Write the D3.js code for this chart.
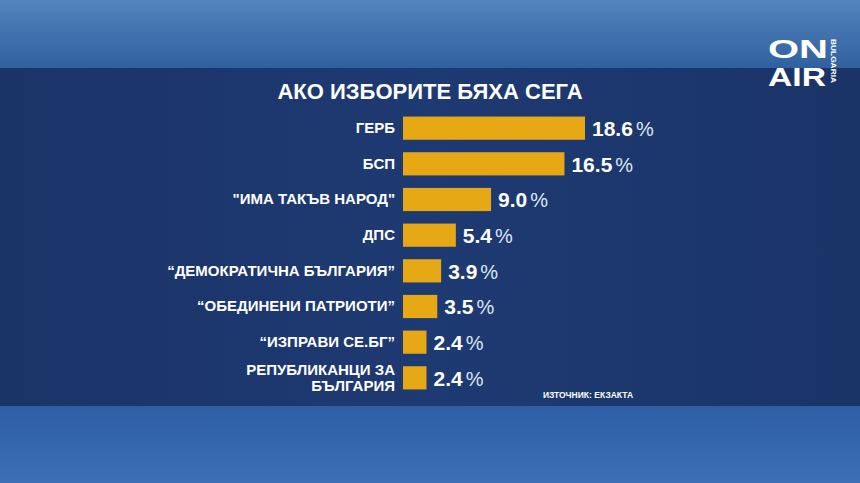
<!DOCTYPE html>
<html><head><meta charset="utf-8">
<script src="https://cdn.jsdelivr.net/npm/d3@7"></script>
<style>body{margin:0;background:#2a5590}text{font-family:"Liberation Sans",Arial,sans-serif}</style>
</head><body>
<svg width="860" height="483"></svg>
<script>
var parties = ["ГЕРБ", "БСП", "\"ИМА ТАКЪВ НАРОД\"", "ДПС", "“ДЕМОКРАТИЧНА БЪЛГАРИЯ”", "“ОБЕДИНЕНИ ПАТРИОТИ”", "“ИЗПРАВИ СЕ.БГ”", "РЕПУБЛИКАНЦИ ЗА|БЪЛГАРИЯ"];
var values = [18.6, 16.5, 9.0, 5.4, 3.9, 3.5, 2.4, 2.4];
var title = "АКО ИЗБОРИТЕ БЯХА СЕГА";
var source = "ИЗТОЧНИК: ЕКЗАКТА";

var svg = d3.select("svg");
var defs = svg.append("defs");
var gt = defs.append("linearGradient").attr("id", "top").attr("x1", 0).attr("x2", 0).attr("y1", 0).attr("y2", 1);
gt.append("stop").attr("offset", 0).attr("stop-color", "#5384bd");
gt.append("stop").attr("offset", 1).attr("stop-color", "#2f5f9e");
var gb = defs.append("linearGradient").attr("id", "bot").attr("x1", 0).attr("x2", 0).attr("y1", 0).attr("y2", 1);
gb.append("stop").attr("offset", 0).attr("stop-color", "#2d5ea6");
gb.append("stop").attr("offset", 1).attr("stop-color", "#3c70b6");
var gm = defs.append("linearGradient").attr("id", "mid").attr("x1", 0).attr("x2", 1).attr("y1", 0).attr("y2", 0);
gm.append("stop").attr("offset", 0).attr("stop-color", "#1b3468");
gm.append("stop").attr("offset", 0.5).attr("stop-color", "#1e3a72");
gm.append("stop").attr("offset", 1).attr("stop-color", "#1a3468");

svg.append("rect").attr("width", 860).attr("height", 70).attr("fill", "url(#top)");
svg.append("rect").attr("y", 68).attr("width", 860).attr("height", 338).attr("fill", "url(#mid)");
svg.append("rect").attr("y", 406).attr("width", 860).attr("height", 77).attr("fill", "url(#bot)");

var x = d3.scaleLinear().domain([0, 18.6]).range([403, 585]);
var y = d3.scaleBand().domain(parties).range([113, 393]).paddingInner(0.35).paddingOuter(0.1);

svg.append("text").attr("x", 430).attr("y", 99).attr("text-anchor", "middle")
  .attr("fill", "#fff").attr("font-size", 22).attr("font-weight", "bold").text(title);

var row = svg.selectAll(".row").data(parties).enter().append("g")
  .attr("transform", function(d) { return "translate(0," + y(d) + ")"; });

row.append("rect").attr("x", x(0)).attr("width", function(d, i) { return x(values[i]) - x(0); })
  .attr("height", y.bandwidth()).attr("fill", "#e6a815");

row.each(function(d) {
  var lines = d.split("|"), g = d3.select(this);
  lines.forEach(function(l, k) {
    g.append("text").attr("x", 395).attr("text-anchor", "end")
      .attr("y", y.bandwidth() / 2 + 5 + (k - (lines.length - 1) / 2) * 16)
      .attr("fill", "#fff").attr("font-size", 15).attr("font-weight", "bold").text(l);
  });
});

var lab = row.append("text").attr("x", function(d, i) { return x(values[i]) + 7; })
  .attr("y", y.bandwidth() / 2 + 8).attr("fill", "#fff");
lab.append("tspan").attr("font-size", 21).attr("font-weight", "bold")
  .text(function(d, i) { return d3.format(".1f")(values[i]); });
lab.append("tspan").attr("font-size", 20).attr("dx", 3).attr("fill", "#dfe6f2").text("%");

svg.append("text").attr("x", 588).attr("y", 398).attr("text-anchor", "middle")
  .attr("fill", "#fff").attr("font-size", 8.5).attr("font-weight", "bold").text(source);

var logo = svg.append("g").attr("fill", "#fff").attr("font-weight", "900").attr("font-size", 25);
logo.append("text").attr("x", 768).attr("y", 58).attr("textLength", 60).attr("lengthAdjust", "spacingAndGlyphs").text("ON");
logo.append("text").attr("x", 768).attr("y", 86).attr("textLength", 58).attr("lengthAdjust", "spacingAndGlyphs").text("AIR");
logo.append("text").attr("transform", "translate(831,39) rotate(90)").attr("font-size", 6.5).attr("font-weight", "bold")
  .attr("textLength", 44).attr("lengthAdjust", "spacingAndGlyphs").text("BULGARIA");
</script>
</body></html>
